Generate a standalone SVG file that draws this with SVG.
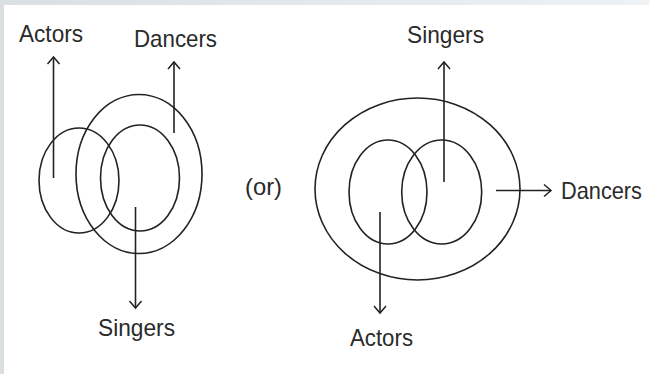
<svg xmlns="http://www.w3.org/2000/svg" width="649" height="374" viewBox="0 0 649 374">
<defs>
<linearGradient id="topg" x1="0" y1="0" x2="1" y2="0">
<stop offset="0" stop-color="#dadfe1"/>
<stop offset="1" stop-color="#eef2f4"/>
</linearGradient>
<marker id="arr" viewBox="-10 -8 12 16" markerWidth="12" markerHeight="16" refX="0" refY="0" orient="auto" markerUnits="userSpaceOnUse">
<path d="M-7,-6 L0,0 L-7,6" fill="none" stroke="#222" stroke-width="1.5"/>
</marker>
</defs>
<style>
.sh{fill:none;stroke:#222;stroke-width:1.6}
.ln{fill:none;stroke:#222;stroke-width:1.6;marker-end:url(#arr)}
.t{font-family:"Liberation Sans","DejaVu Sans",Arial,sans-serif;font-size:24px;fill:#2a2a2a}
</style>
<rect x="0" y="0" width="649" height="374" fill="#ffffff"/>
<rect x="0" y="0" width="649" height="5" fill="url(#topg)"/>
<rect x="0" y="0" width="4" height="374" fill="#dadfe1"/>

<g id="left-diagram">
<g id="left-dancers"><ellipse class="sh" cx="139" cy="174" rx="63" ry="79.5"/></g>
<g id="left-actors"><ellipse class="sh" cx="79" cy="180.5" rx="40" ry="52.5"/></g>
<g id="left-singers"><ellipse class="sh" cx="140" cy="178" rx="39.5" ry="53"/></g>
</g>

<g id="right-diagram">
<g id="right-dancers"><ellipse class="sh" cx="417.5" cy="189" rx="102.5" ry="91"/></g>
<g id="right-actors"><ellipse class="sh" cx="388" cy="192" rx="39" ry="52"/></g>
<g id="right-singers"><ellipse class="sh" cx="441.7" cy="192" rx="40" ry="52"/></g>
</g>

<g id="connectors">
<line class="ln" x1="53.5" y1="178" x2="53.5" y2="57"/>
<line class="ln" x1="174" y1="133" x2="174" y2="62"/>
<line class="ln" x1="135.5" y1="207" x2="135.5" y2="308"/>
<line class="ln" x1="444" y1="182" x2="444" y2="62"/>
<line class="ln" x1="496" y1="190.5" x2="551" y2="190.5"/>
<line class="ln" x1="380" y1="212" x2="380" y2="313"/>
</g>

<g id="labels">
<text class="t" x="19" y="42" textLength="64" lengthAdjust="spacingAndGlyphs">Actors</text>
<text class="t" x="134" y="47" textLength="83" lengthAdjust="spacingAndGlyphs">Dancers</text>
<text class="t" x="98" y="336" textLength="77" lengthAdjust="spacingAndGlyphs">Singers</text>
<text class="t" x="245" y="195" textLength="37" lengthAdjust="spacingAndGlyphs">(or)</text>
<text class="t" x="407" y="43" textLength="77" lengthAdjust="spacingAndGlyphs">Singers</text>
<text class="t" x="561" y="199" textLength="81" lengthAdjust="spacingAndGlyphs">Dancers</text>
<text class="t" x="350" y="346" textLength="63" lengthAdjust="spacingAndGlyphs">Actors</text>
</g>
</svg>
